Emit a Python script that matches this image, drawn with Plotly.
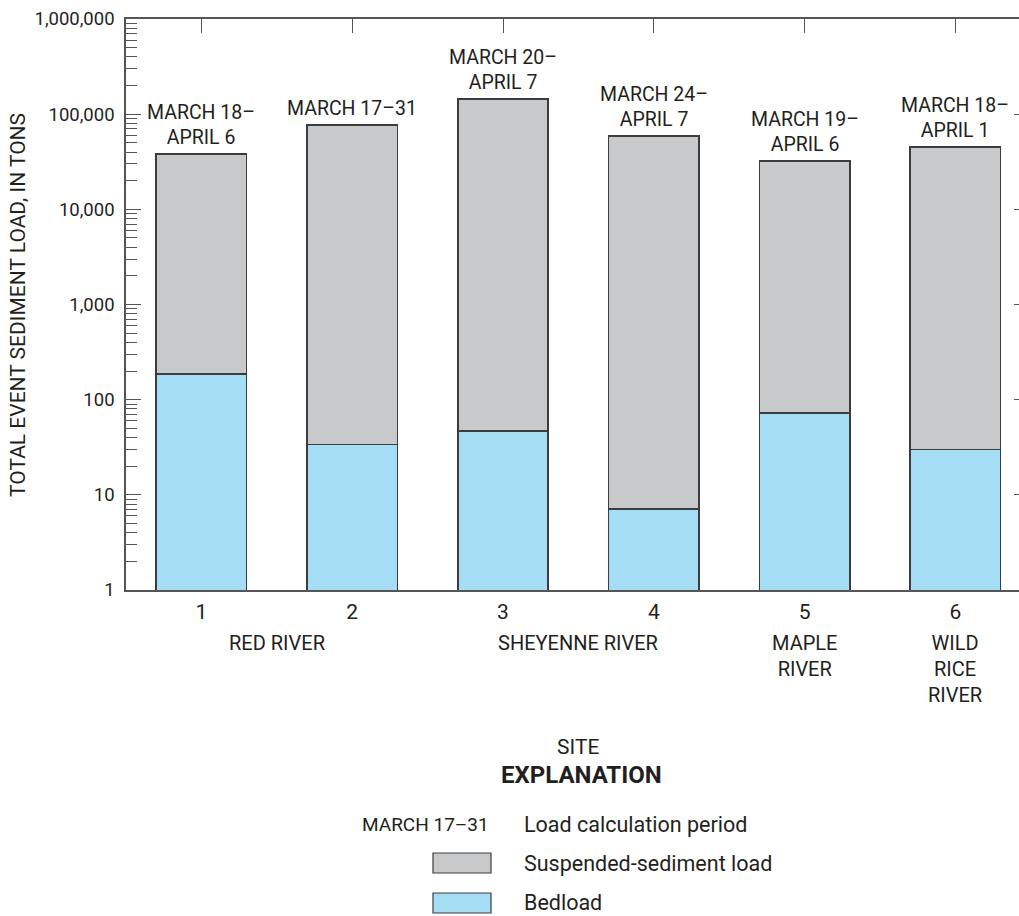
import math
import plotly.graph_objects as go

# ---- data ----
sites = [1, 2, 3, 4, 5, 6]
site_labels = ["1", "2", "3", "4", "5", "6"]
bedload = [186, 34, 47, 7.1, 72, 30]
suspended = [37900, 76900, 144000, 58900, 32100, 45200]
periods = [["MARCH 18–", "APRIL 6"], ["MARCH 17–31"], ["MARCH 20–", "APRIL 7"],
           ["MARCH 24–", "APRIL 7"], ["MARCH 19–", "APRIL 6"], ["MARCH 18–", "APRIL 1"]]
river_names = [["RED RIVER"], ["SHEYENNE RIVER"], ["MAPLE", "RIVER"],
               ["WILD", "RICE", "RIVER"]]
river_pos = [1.5, 3.5, 5, 6]
y_tickvals = [1, 10, 100, 1000, 10000, 100000, 1000000]
y_ticktext = ["1", "10", "100", "1,000", "10,000", "100,000", "1,000,000"]

# ---- style ----
FONT = "Roboto, Liberation Sans, sans-serif"
TXT = "#231f20"
AX = "#555555"
GRAY = "#c8c9cb"
BLUE = "#a5ddf5"
EDGE = "#3c3c3c"
FS = 21
W, H = 1019, 916
ML, MR, MT, MB = 126, 0, 19, 326
PW, PH = W - ML - MR, H - MT - MB


def px_x(px):
    return (px - ML) / PW


def px_y(py):
    return (H - MB - py) / PH


def f(size=FS, **kw):
    return dict(family=FONT, size=size, color=TXT, **kw)


fig = go.Figure()
fig.add_trace(go.Bar(x=sites, y=bedload, width=0.6, name="Bedload",
                     marker=dict(color=BLUE, line=dict(color=EDGE, width=1.5))))
fig.add_trace(go.Bar(x=sites, y=suspended, width=0.6, name="Suspended-sediment load",
                     marker=dict(color=GRAY, line=dict(color=EDGE, width=1.5))))
# helper invisible trace for the top / right tick axes
fig.add_trace(go.Scatter(x=[1], y=[1], xaxis="x2", yaxis="y2", mode="markers",
                         marker=dict(opacity=0), hoverinfo="skip", showlegend=False))

annotations = []
totals = [b + s for b, s in zip(bedload, suspended)]
for s, t, lines in zip(sites, totals, periods):
    annotations.append(dict(x=s, y=math.log10(t), xref="x", yref="y",
                            text="<br>".join(lines), showarrow=False,
                            yanchor="bottom", yshift=3, font=f(19.5)))
for lines, pos in zip(river_names, river_pos):
    annotations.append(dict(x=pos, y=0, xref="x", yref="paper", text="<br>".join(lines),
                            showarrow=False, yanchor="top", yshift=-39, font=f(20)))
annotations.append(dict(x=3.5, y=px_y(747), xref="x", yref="paper", text="SITE",
                        showarrow=False, yanchor="middle", font=f()))
annotations.append(dict(x=px_x(18), y=px_y(305), xref="paper", yref="paper",
                        text="TOTAL EVENT SEDIMENT LOAD, IN TONS", textangle=-90,
                        xanchor="center", yanchor="middle", showarrow=False, font=f()))
# explanation
annotations.append(dict(x=px_x(581), y=px_y(775), xref="paper", yref="paper",
                        text="<b>EXPLANATION</b>", showarrow=False, yanchor="middle",
                        font=f(24)))
annotations.append(dict(x=px_x(491), y=px_y(825), xref="paper", yref="paper",
                        text="MARCH 17–31", xanchor="right", yanchor="middle",
                        showarrow=False, font=f(19)))
legend_rows = [("Load calculation period", 825), ("Suspended-sediment load", 863),
               ("Bedload", 902)]
for txt, yy in legend_rows:
    annotations.append(dict(x=px_x(522), y=px_y(yy), xref="paper", yref="paper",
                            text=txt, xanchor="left", yanchor="middle",
                            showarrow=False, font=f(21.5)))
shapes = []
for col, yy in [(GRAY, 863), (BLUE, 903)]:
    shapes.append(dict(type="rect", xref="paper", yref="paper",
                       x0=px_x(433), x1=px_x(491), y0=px_y(yy - 10), y1=px_y(yy + 10),
                       fillcolor=col, line=dict(color=EDGE, width=1.2)))

xr = [0.5, 0.5 + PW / 150.8]
fig.update_layout(
    width=W, height=H, margin=dict(l=ML, r=MR, t=MT, b=MB),
    plot_bgcolor="white", paper_bgcolor="white",
    barmode="stack", showlegend=False,
    font=f(),
    xaxis=dict(range=xr, tickvals=sites, ticktext=site_labels, ticks="",
               showline=True, linecolor=AX, linewidth=1.5, showgrid=False,
               zeroline=False, ticklabelstandoff=2, tickfont=f()),
    yaxis=dict(type="log", range=[0, 6], tickvals=y_tickvals, ticktext=y_ticktext,
               ticks="inside", ticklen=15, tickwidth=1.3, tickcolor=AX,
               showline=True, linecolor=AX, linewidth=1.5, showgrid=False,
               zeroline=False, ticklabelstandoff=6, tickfont=f(18.5),
               minor=dict(ticks="inside", ticklen=11, tickwidth=1.1, tickcolor=AX,
                          dtick="D1", showgrid=False)),
    xaxis2=dict(overlaying="x", side="top", anchor="y2", range=xr, tickvals=sites,
                ticks="inside", ticklen=14, tickwidth=1.3, tickcolor=AX,
                showticklabels=False, showline=True, linecolor=AX, linewidth=1.5,
                showgrid=False, zeroline=False),
    yaxis2=dict(overlaying="y", side="right", anchor="x2", type="log", range=[0, 6],
                tickvals=y_tickvals, ticks="inside", ticklen=5, tickwidth=1.3,
                tickcolor=AX, showticklabels=False, showline=False, showgrid=False,
                zeroline=False),
    annotations=annotations, shapes=shapes,
)

fig.write_html("out.html", config={"displayModeBar": False},
               post_script="document.body.style.margin='0';")
